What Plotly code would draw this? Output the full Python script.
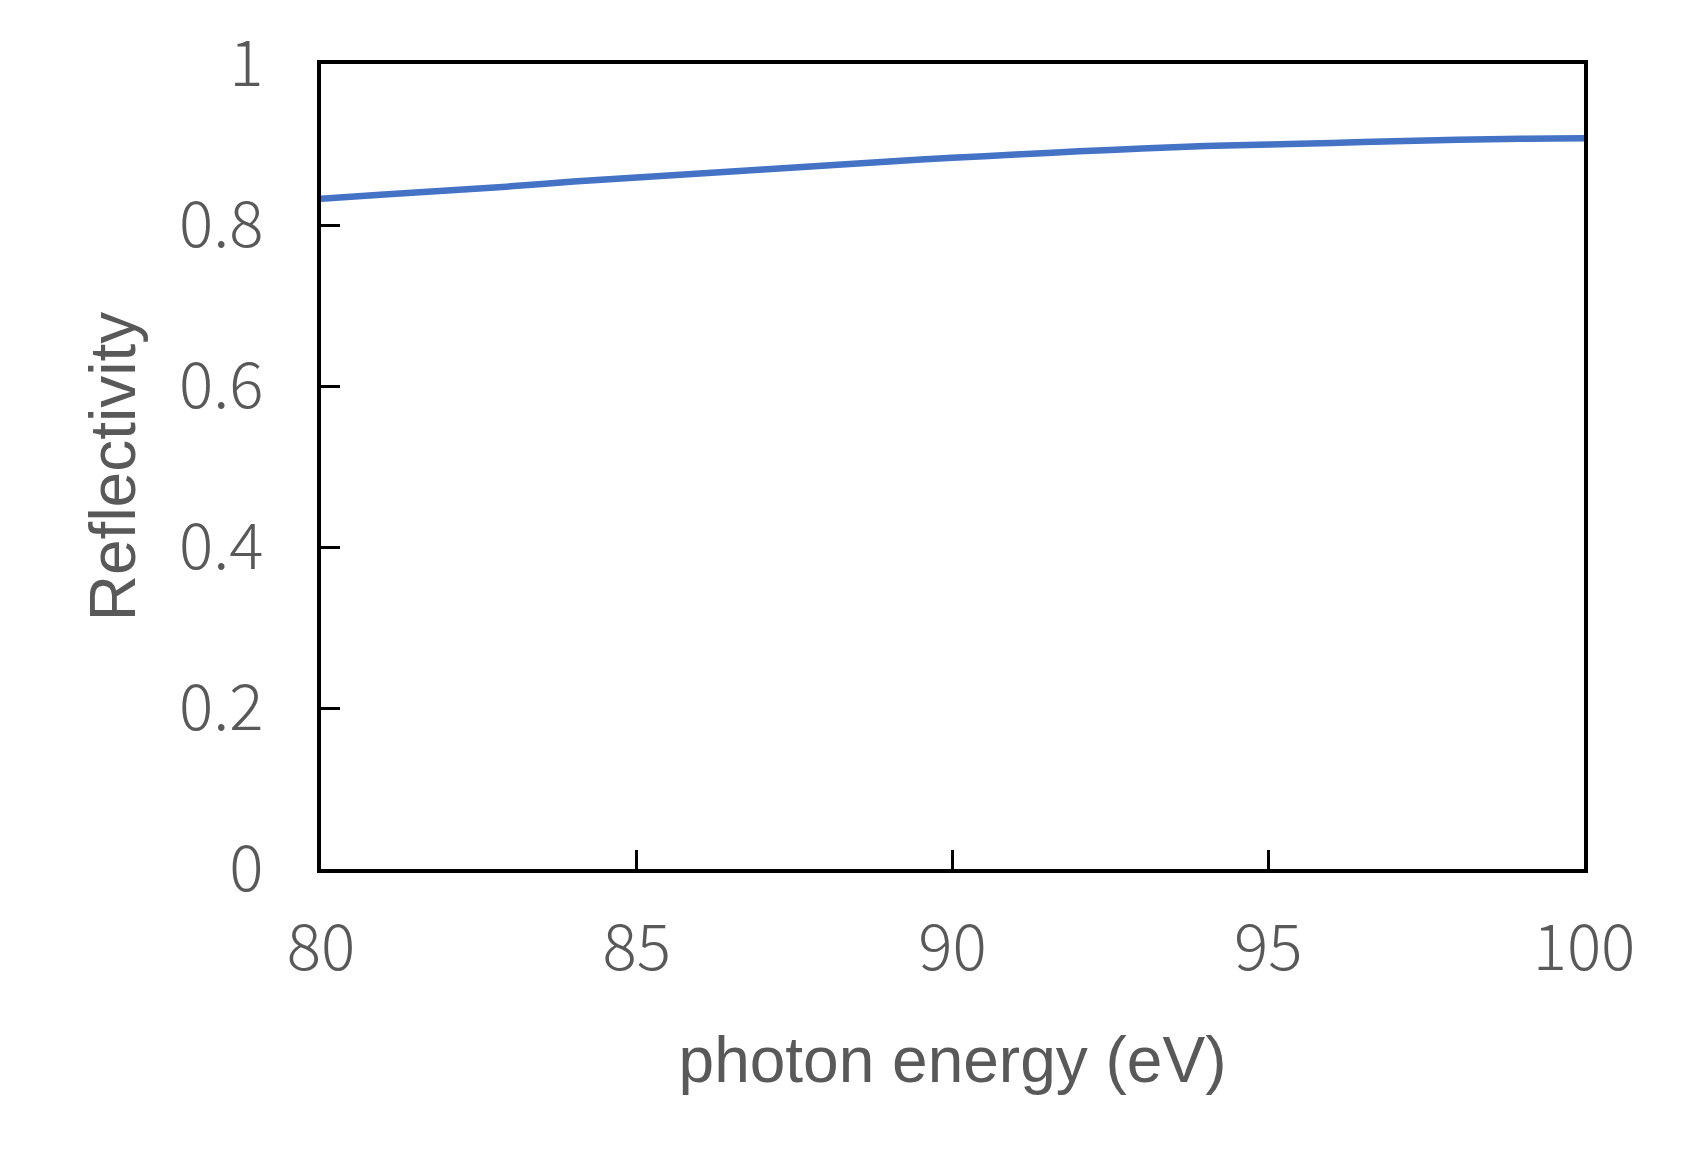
import plotly.graph_objects as go

energy = [80, 81, 82, 83, 84, 85, 86, 87, 88, 89, 90, 91, 92, 93, 94, 95, 96, 97, 98, 99, 100]
reflectivity = [0.8325, 0.838, 0.843, 0.848, 0.854, 0.859, 0.864, 0.869, 0.874, 0.879, 0.8835,
                0.8875, 0.8915, 0.895, 0.898, 0.900, 0.902, 0.904, 0.906, 0.907, 0.9077]

x_ticks = [80, 85, 90, 95, 100]
x_ticktext = ["80", "85", "90", "95", "100"]
y_ticks = [0, 0.2, 0.4, 0.6, 0.8, 1.0]
y_ticktext = ["0", "0.2", "0.4", "0.6", "0.8", "1"]

grey = "#595959"
tick_font = dict(family="Noto Sans CJK JP", size=64, color=grey, weight=300)
title_font = dict(family="Liberation Sans", size=64, color=grey)

fig = go.Figure()
fig.add_trace(go.Scatter(x=energy, y=reflectivity, mode="lines",
                         line=dict(color="#4472C4", width=6.5, shape="spline", smoothing=0.6),
                         showlegend=False))

fig.update_layout(
    width=1688, height=1170,
    margin=dict(l=321, r=104, t=64, b=301),
    paper_bgcolor="white", plot_bgcolor="white",
)
fig.update_xaxes(
    range=[80, 100], tickvals=x_ticks, ticktext=x_ticktext,
    showgrid=False, zeroline=False,
    showline=True, linecolor="black", linewidth=3.5, mirror=True,
    ticks="inside", ticklen=19, tickwidth=3, tickcolor="black",
    tickfont=tick_font, ticklabelstandoff=20,
    title=dict(text="photon energy (eV)", font=title_font, standoff=52),
)
fig.update_yaxes(
    range=[0, 1], tickvals=y_ticks, ticktext=y_ticktext,
    showgrid=False, zeroline=False,
    showline=True, linecolor="black", linewidth=3.5, mirror=True,
    ticks="inside", ticklen=19, tickwidth=3, tickcolor="black",
    tickfont=tick_font, ticklabelstandoff=41,
    title=dict(text="Reflectivity", font=title_font, standoff=24),
)

fig.write_html("out.html")
